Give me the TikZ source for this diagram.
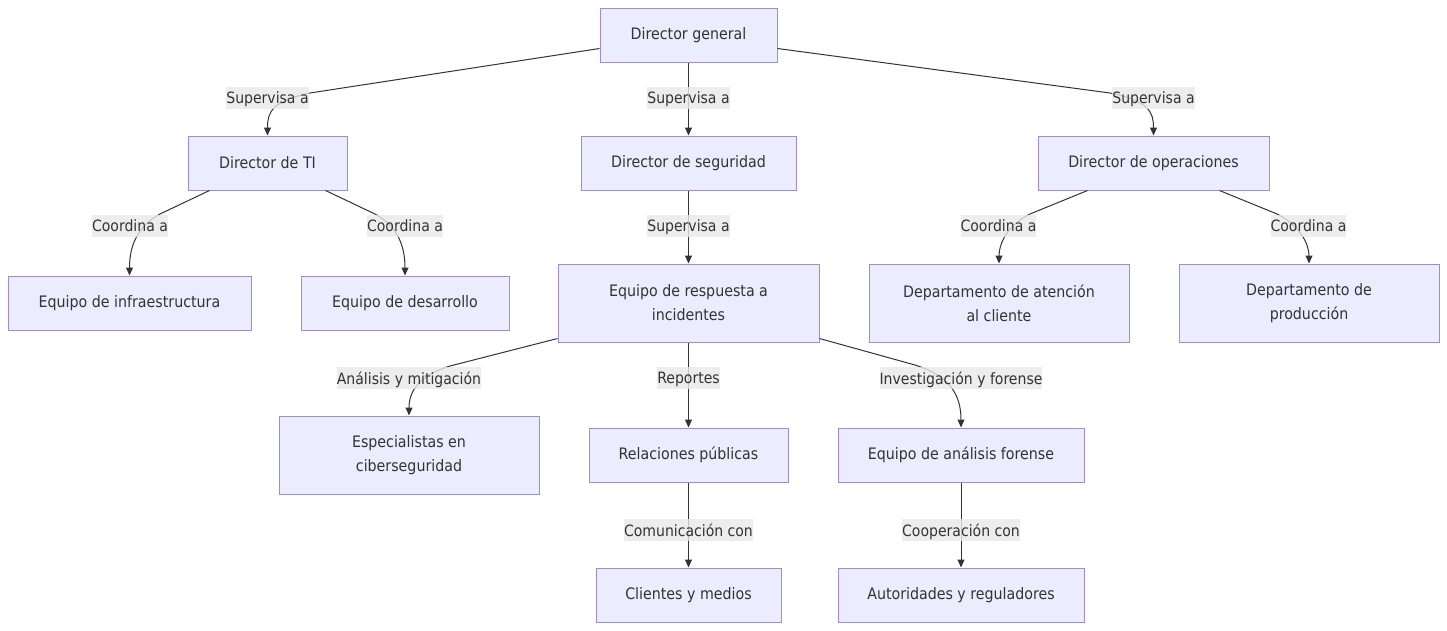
\documentclass[tikz,border=0pt]{standalone}
\usepackage{fontspec}
\setmainfont{DejaVu Sans Condensed}
\usetikzlibrary{arrows.meta,calc}
\definecolor{boxfill}{HTML}{ECECFF}
\definecolor{boxborder}{HTML}{A08AE0}
\definecolor{edgecol}{HTML}{333333}
\definecolor{lblfill}{HTML}{E8E8E8}
\definecolor{txtcol}{HTML}{333333}
\begin{document}
\begin{tikzpicture}[x=1pt,y=-1pt,
  box/.style={draw=boxborder, fill=boxfill, line width=1pt, inner sep=0pt, align=center,
    text=txtcol, font=\fontsize{15.8}{24}\selectfont},
  lbl/.style={fill=lblfill, fill opacity=0.8, text opacity=1, inner sep=0pt, minimum height=22pt,
    text=txtcol, font=\fontsize{15.6}{20}\selectfont, text depth=0pt},
  conn/.style={draw=edgecol, line width=1pt, -{Triangle[length=8pt,width=7pt]}}]
\useasboundingbox (0,0) rectangle (1447,630);
% nodes
\node[box, minimum width=177pt, minimum height=54pt] (dg) at (688.5,35) {Director general};
\node[box, minimum width=159pt, minimum height=54pt] (dti) at (267.5,163) {Director de TI};
\node[box, minimum width=215pt, minimum height=54pt] (ds) at (688.5,163) {Director de seguridad};
\node[box, minimum width=231pt, minimum height=54pt] (dop) at (1153.5,163) {Director de operaciones};
\node[box, minimum width=243pt, minimum height=54pt] (ei) at (129.5,303) {Equipo de infraestructura};
\node[box, minimum width=208pt, minimum height=54pt] (ed) at (405,303) {Equipo de desarrollo};
\node[box, minimum width=261pt, minimum height=78pt] (eri) at (688.5,303) {Equipo de respuesta a\\incidentes};
\node[box, minimum width=260pt, minimum height=78pt] (dac) at (999,303) {Departamento de atención\\al cliente};
\node[box, minimum width=260pt, minimum height=78pt] (dp) at (1309,303) {Departamento de\\producción};
\node[box, minimum width=260pt, minimum height=78pt] (ec) at (409,455) {Especialistas en\\ciberseguridad};
\node[box, minimum width=199pt, minimum height=54pt] (rp) at (688.5,455) {Relaciones públicas};
\node[box, minimum width=246pt, minimum height=54pt] (eaf) at (961,455) {Equipo de análisis forense};
\node[box, minimum width=185pt, minimum height=54pt] (cm) at (688.5,595) {Clientes y medios};
\node[box, minimum width=246pt, minimum height=54pt] (ar) at (961,595) {Autoridades y reguladores};
% edges
\draw[conn] ([yshift=14pt]dg.south west) -- (310,93) .. controls (272,101) and (267.5,112) .. (dti.north);
\draw[conn] (dg.south) -- (ds.north);
\draw[conn] ([yshift=14pt]dg.south east) -- (1110,93) .. controls (1149,101) and (1153.5,112) .. (dop.north);
\draw[conn] ([xshift=22pt]dti.south west) -- (160,214) .. controls (138,226) and (129.5,245) .. (ei.north);
\draw[conn] ([xshift=-22pt]dti.south east) -- (375,214) .. controls (397,226) and (405,245) .. (ed.north);
\draw[conn] (ds.south) -- (eri.north);
\draw[conn] ([xshift=50pt]dop.south west) -- (1030,214) .. controls (1006,226) and (999,245) .. (dac.north);
\draw[conn] ([xshift=-50pt]dop.south east) -- (1277,214) .. controls (1301,226) and (1309,245) .. (dp.north);
\draw[conn] ([yshift=4pt]eri.south west) -- (450,366) .. controls (418,376) and (409,392) .. (ec.north);
\draw[conn] (eri.south) -- (rp.north);
\draw[conn] ([yshift=4pt]eri.south east) -- (915,365) .. controls (950,376) and (961,395) .. (eaf.north);
\draw[conn] (rp.south) -- (cm.north);
\draw[conn] (eaf.south) -- (ar.north);
% labels
\node[lbl] (l1) at (267.5,98) {Supervisa a};
\node[lbl] (l2) at (688.5,98) {Supervisa a};
\node[lbl] (l3) at (1153.5,98) {Supervisa a};
\node[lbl] (l4) at (130,226) {Coordina a};
\node[lbl] (l5) at (405,226) {Coordina a};
\node[lbl] (l6) at (688.5,226) {Supervisa a};
\node[lbl] (l7) at (998.5,226) {Coordina a};
\node[lbl] (l8) at (1308.5,226) {Coordina a};
\node[lbl] (l9) at (409,378) {Análisis y mitigación};
\node[lbl] (l10) at (688.5,378) {Reportes};
\node[lbl] (l11) at (961,378) {Investigación y forense};
\node[lbl] (l12) at (688.5,530) {Comunicación con};
\node[lbl] (l13) at (961,530) {Cooperación con};
\end{tikzpicture}
\end{document}
